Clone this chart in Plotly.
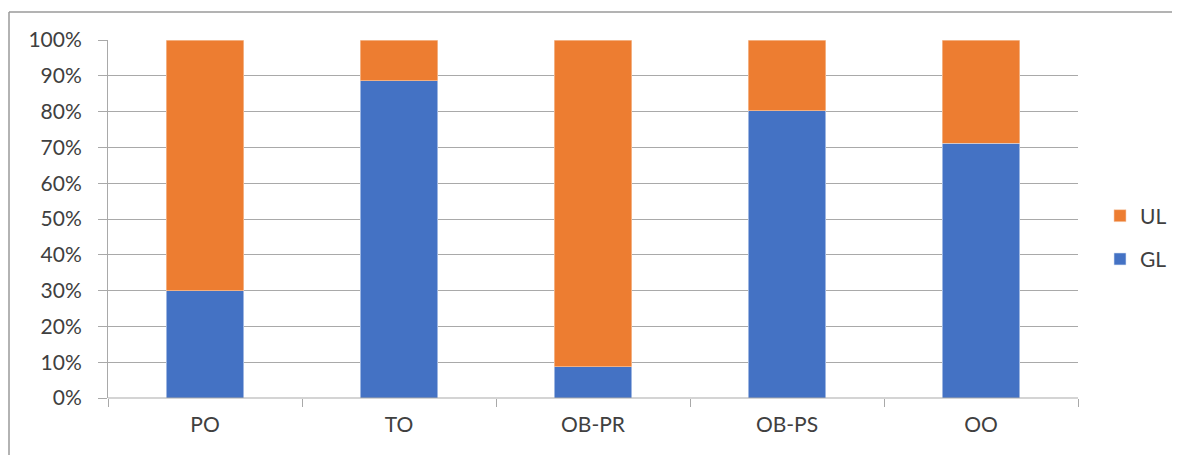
import plotly.graph_objects as go

categories = ["PO", "TO", "OB-PR", "OB-PS", "OO"]
gl_values = [30.0, 88.6, 8.8, 80.2, 71.2]
ul_values = [100 - v for v in gl_values]
y_ticks = [0, 10, 20, 30, 40, 50, 60, 70, 80, 90, 100]
y_tick_labels = [f"{t}%" for t in y_ticks]

FONT = "Lato, 'Open Sans', sans-serif"
TXT = "#404040"
GRID = "#a9a9a9"

# page body has an 8px margin: figure occupies 8..1180 x 8..455 of the window
W, H, OFF = 1172, 447, 8

fig = go.Figure()
fig.add_trace(go.Bar(x=categories, y=gl_values, name="GL", legendgroup="gl", legendrank=2,
                     marker=dict(color="#4472C4", line=dict(color="#dbe4f5", width=0.6)),
                     width=0.4))
fig.add_trace(go.Bar(x=categories, y=ul_values, name="UL", legendgroup="ul", legendrank=1,
                     marker=dict(color="#ED7D31", line=dict(color="#f7d2b8", width=0.6)),
                     width=0.4))

pl, pr, pt, pb = 108 - OFF, 1078 - OFF, 40 - OFF, 398 - OFF
pw, ph = pr - pl, pb - pt

fig.update_layout(
    width=W, height=H,
    barmode="stack",
    paper_bgcolor="white", plot_bgcolor="white",
    margin=dict(l=pl, r=W - pr, t=pt, b=H - pb, autoexpand=False),
    font=dict(family=FONT, size=21, color=TXT),
    legend=dict(x=(1100 - OFF) / W, y=1 - (237.5 - OFF) / H, xref="container", yref="container",
                xanchor="left", yanchor="middle",
                traceorder="grouped", tracegroupgap=13,
                font=dict(family=FONT, size=21, color=TXT),
                bgcolor="rgba(0,0,0,0)"),
    xaxis=dict(showgrid=False, showline=False, tickson="boundaries",
               ticks="outside", ticklen=8, tickcolor=GRID, tickwidth=1,
               ticklabelstandoff=12, zeroline=False, automargin=False),
    yaxis=dict(range=[0, 100], tickvals=y_ticks, ticktext=y_tick_labels,
               showgrid=True, gridcolor=GRID, gridwidth=1,
               showline=True, linecolor=GRID, linewidth=1,
               ticks="outside", ticklen=9, tickcolor=GRID,
               ticklabelstandoff=12, zeroline=False, automargin=False),
    shapes=[
        dict(type="line", xref="paper", yref="paper", x0=0, x1=1, y0=0, y1=0,
             line=dict(color=GRID, width=1), layer="above"),
        dict(type="line", xref="paper", yref="paper",
             x0=(9 - 108) / pw, x1=(9 - 108) / pw, y0=(398 - 12) / ph, y1=(398 - 455) / ph,
             line=dict(color="#9a9a9a", width=1.5)),
        dict(type="line", xref="paper", yref="paper",
             x0=(9 - 108) / pw, x1=(1180 - 108) / pw, y0=(398 - 12) / ph, y1=(398 - 12) / ph,
             line=dict(color="#9a9a9a", width=1.5)),
    ],
)

fig.write_html("out.html")
